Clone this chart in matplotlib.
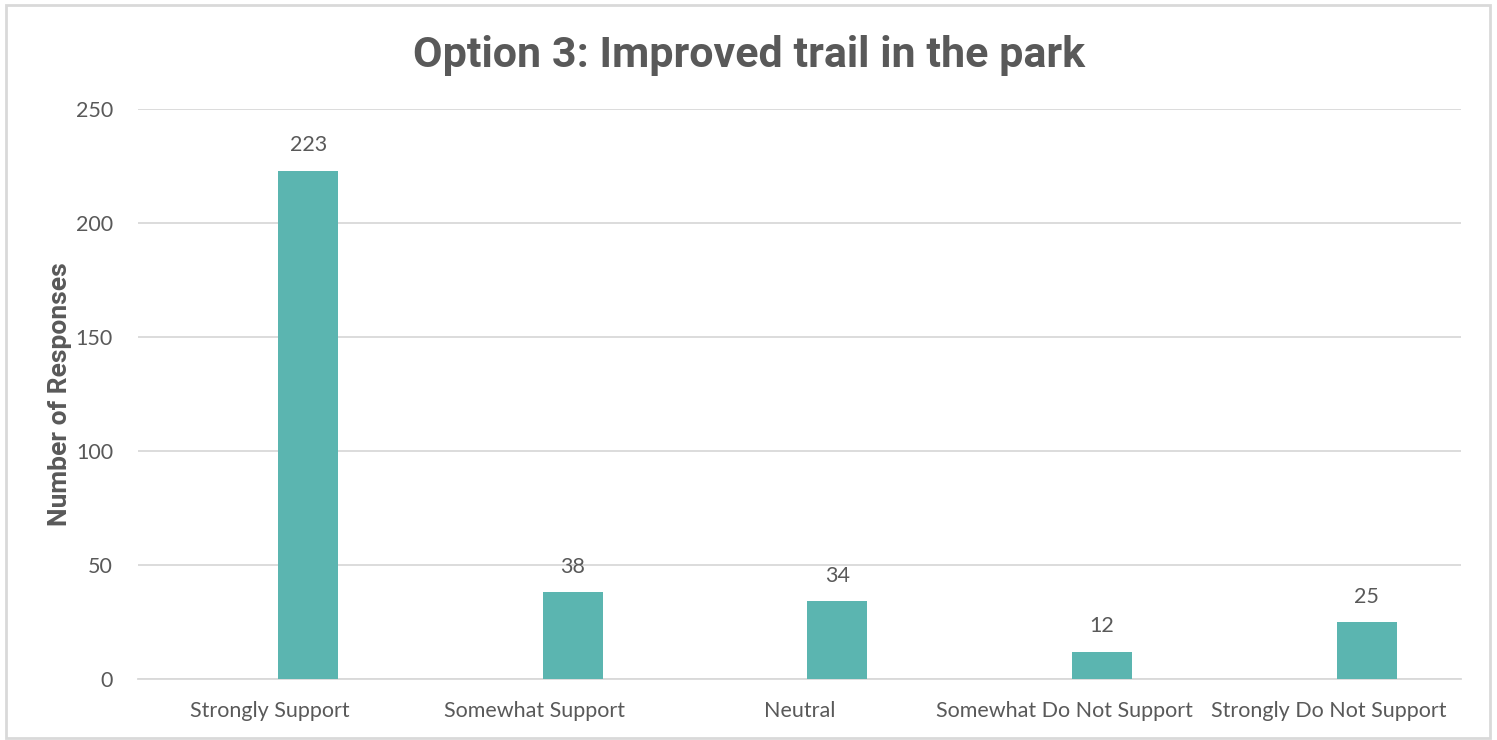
import matplotlib.pyplot as plt
import numpy as np
from matplotlib.patches import Rectangle

categories = ['Strongly Support', 'Somewhat Support', 'Neutral',
              'Somewhat Do Not Support', 'Strongly Do Not Support']
responses = [223, 38, 34, 12, 25]
y_ticks = [0, 50, 100, 150, 200, 250]

text_color = '#595959'
bar_color = '#5BB5B0'
grid_color = '#D9D9D9'
body_font = 'Lato'

fig = plt.figure(figsize=(14.97, 7.40), dpi=100)
ax = fig.add_axes([138 / 1497, 61 / 740, 1323 / 1497, 570 / 740])

# outer chart border
fig.add_artist(Rectangle((6 / 1497, 2 / 740), 1484 / 1497, 733 / 740,
                         transform=fig.transFigure, fill=False,
                         edgecolor=grid_color, linewidth=2))

x = np.arange(len(categories))
ax.bar(x + 0.143, responses, width=0.227, color=bar_color, zorder=3)

for xi, v in zip(x, responses):
    ax.annotate(str(v), (xi + 0.143, v), xytext=(0, 11), textcoords='offset points',
                ha='center', va='bottom', fontsize=15.5, color=text_color,
                family=body_font)

ax.set_xlim(-0.5, len(categories) - 0.5)
ax.set_ylim(0, 250)
ax.set_yticks(y_ticks)
ax.set_xticks(x)
ax.set_xticklabels(categories, fontsize=15.5, color=text_color, family=body_font)
ax.set_yticklabels([str(t) for t in y_ticks], fontsize=15.5, color=text_color,
                   family=body_font)
ax.tick_params(length=0)
ax.tick_params(axis='x', pad=16)
ax.tick_params(axis='y', pad=18)

ax.yaxis.grid(True, color=grid_color, linewidth=1.3, zorder=0)
for side in ['top', 'right', 'left']:
    ax.spines[side].set_visible(False)
ax.spines['bottom'].set_color(grid_color)
ax.spines['bottom'].set_linewidth(1.3)

ax.set_ylabel('Number of Responses', fontsize=19, fontweight='bold',
              color=text_color, family='Roboto', labelpad=3)
fig.text(749 / 1497, 1 - 55 / 740, 'Option 3: Improved trail in the park',
         ha='center', va='center', fontsize=31, fontweight='bold',
         color=text_color, family='Roboto')

fig.savefig('out.png', dpi=100)
